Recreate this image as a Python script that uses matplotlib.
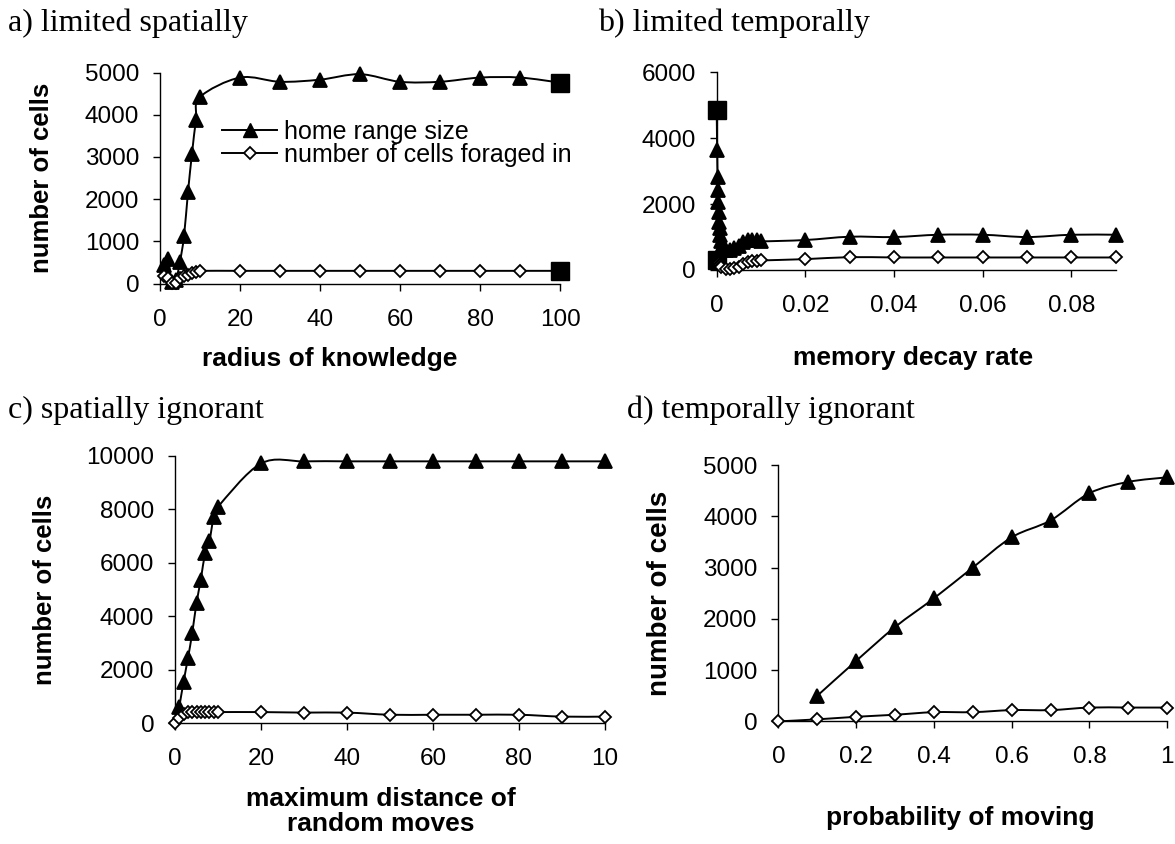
import numpy as np
import matplotlib
matplotlib.use("Agg")
import matplotlib.pyplot as plt
from matplotlib.path import Path
from matplotlib.patches import PathPatch

plt.rcParams['font.family'] = ['Liberation Sans', 'DejaVu Sans']

# a) limited spatially: radius of knowledge (last point = full knowledge)
radius = [1, 2, 3, 4, 5, 6, 7, 8, 9, 10, 20, 30, 40, 50, 60, 70, 80, 90, 100]
home_a = [450, 570, 30, 80, 520, 1120, 2170, 3080, 3880, 4420,
          4880, 4780, 4830, 4960, 4780, 4780, 4880, 4880, 4760]
forage_a = [170, 120, 10, 20, 130, 170, 210, 250, 280, 300,
            300, 300, 300, 300, 300, 300, 300, 300, 300]

# b) limited temporally: memory decay rate (first point = no decay)
decay = [0, 0.0001, 0.0002, 0.0003, 0.0004, 0.0005, 0.0006, 0.0007, 0.0008, 0.0009,
         0.001, 0.002, 0.003, 0.004, 0.005, 0.006, 0.007, 0.008, 0.009,
         0.01, 0.02, 0.03, 0.04, 0.05, 0.06, 0.07, 0.08, 0.09]
home_b = [4850, 3650, 2820, 2420, 2070, 1770, 1470, 1260, 1070, 870,
          680, 620, 620, 680, 740, 860, 900, 900, 900,
          870, 910, 1010, 1000, 1070, 1070, 1000, 1070, 1070]
forage_b = [300, 300, 290, 270, 250, 230, 200, 180, 150, 120,
            80, 40, 30, 60, 100, 170, 230, 260, 280,
            290, 330, 390, 380, 380, 380, 380, 380, 380]

# c) spatially ignorant: maximum distance of random moves
dist_home = [1, 2, 3, 4, 5, 6, 7, 8, 9, 10, 20, 30, 40, 50, 60, 70, 80, 90, 100]
home_c = [620, 1560, 2430, 3370, 4500, 5370, 6370, 6820, 7720, 8100,
          9720, 9800, 9800, 9800, 9800, 9800, 9800, 9800, 9800]
dist_forage = [0, 1, 2, 3, 4, 5, 6, 7, 8, 9, 10, 20, 30, 40, 50, 60, 70, 80, 90, 100]
forage_c = [0, 200, 360, 420, 420, 420, 420, 420, 420, 420, 420,
            420, 400, 400, 320, 320, 320, 320, 250, 250]

# d) temporally ignorant: probability of moving
prob_home = [0.1, 0.2, 0.3, 0.4, 0.5, 0.6, 0.7, 0.8, 0.9, 1.0]
home_d = [500, 1180, 1840, 2400, 3000, 3590, 3920, 4450, 4670, 4760]
prob_forage = [0, 0.1, 0.2, 0.3, 0.4, 0.5, 0.6, 0.7, 0.8, 0.9, 1.0]
forage_d = [0, 40, 90, 130, 180, 180, 220, 220, 270, 270, 270]

W, H = 1175, 844


def smooth_path(xs, ys):
    # Catmull-Rom style cubic Bezier through every point
    pts = np.column_stack([xs, ys]).astype(float)
    n = len(pts)
    verts = [pts[0]]
    codes = [Path.MOVETO]
    for i in range(n - 1):
        p0 = pts[i - 1] if i > 0 else pts[i]
        p1 = pts[i]
        p2 = pts[i + 1]
        p3 = pts[i + 2] if i + 2 < n else pts[i + 1]
        verts += [p1 + (p2 - p0) / 6, p2 - (p3 - p1) / 6, p2]
        codes += [Path.CURVE4] * 3
    return Path(verts, codes)


def draw_series(ax, x, y, marker, ms, face, z, square_at=None):
    ax.add_patch(PathPatch(smooth_path(x, y), fill=False, ec='black', lw=1.4,
                           transform=ax.transData, clip_on=False, zorder=z))
    x = list(x)
    y = list(y)
    if square_at is not None:
        ax.plot([x[square_at]], [y[square_at]], ls='none', marker='s', ms=12.5,
                mfc='black', mec='black', clip_on=False, zorder=z + 1)
        del x[square_at]
        del y[square_at]
    ax.plot(x, y, ls='none', marker=marker, ms=ms, mfc=face, mec='black',
            mew=1.3, clip_on=False, zorder=z + 1)


def make_axes(fig, left, top, right, bottom):
    ax = fig.add_axes([left / W, 1 - bottom / H, (right - left) / W, (bottom - top) / H])
    for side in ['top', 'right']:
        ax.spines[side].set_visible(False)
    for side in ['left', 'bottom']:
        ax.spines[side].set_linewidth(1.0)
    ax.tick_params(axis='both', direction='out', length=5, width=1.0, labelsize=17.5)
    ax.tick_params(axis='y', pad=10)
    ax.tick_params(axis='x', pad=13)
    return ax


def set_labels(ax, xlabel, xpos, ylabel=None, ypos=None, ysize=18.5, xsize=19):
    ax.set_xlabel(xlabel, fontsize=xsize, fontweight='bold', va='top',
                  linespacing=1.05)
    ax.xaxis.set_label_coords(*xpos)
    if ylabel:
        ax.set_ylabel(ylabel, fontsize=ysize, fontweight='bold', va='center')
        ax.yaxis.set_label_coords(*ypos)


def main():
    fig = plt.figure(figsize=(W / 100, H / 100), dpi=100)
    tri, dia = 10, 6.5

    # a) limited spatially
    ax = make_axes(fig, 160, 72.5, 560, 283.5)
    draw_series(ax, radius, home_a, '^', tri, 'black', 3, square_at=len(radius) - 1)
    draw_series(ax, radius, forage_a, 'D', dia, 'white', 5, square_at=len(radius) - 1)
    ax.set_xlim(0, 100)
    ax.set_ylim(0, 5000)
    ax.set_xticks(range(0, 101, 20))
    ax.set_yticks(range(0, 5001, 1000))
    set_labels(ax, 'radius of knowledge', (0.425, -0.3),
               'number of cells', (-0.294, 0.5))
    h1 = plt.Line2D([], [], color='black', lw=1.4, marker='^', ms=tri)
    h2 = plt.Line2D([], [], color='black', lw=1.4, marker='D', ms=dia,
                    mfc='white', mew=1.3)
    ax.legend([h1, h2], ['home range size', 'number of cells foraged in'],
              loc='upper left', bbox_to_anchor=(0.155, 0.776), frameon=False,
              fontsize=18, handlelength=2.2, handletextpad=0.3,
              borderpad=0, borderaxespad=0, labelspacing=-0.03)

    # b) limited temporally
    ax = make_axes(fig, 716.7, 72.3, 1115.7, 270)
    draw_series(ax, decay, home_b, '^', tri, 'black', 3, square_at=0)
    draw_series(ax, decay, forage_b, 'D', dia, 'white', 5, square_at=0)
    ax.set_xlim(0, 0.09)
    ax.set_ylim(0, 6000)
    ax.set_xticks([0, 0.02, 0.04, 0.06, 0.08], ['0', '0.02', '0.04', '0.06', '0.08'])
    ax.set_yticks(range(0, 6001, 2000))
    set_labels(ax, 'memory decay rate', (0.492, -0.385))

    # c) spatially ignorant
    ax = make_axes(fig, 175, 456, 605, 723.3)
    draw_series(ax, dist_home, home_c, '^', tri, 'black', 3)
    draw_series(ax, dist_forage, forage_c, 'D', dia, 'white', 5)
    ax.set_xlim(0, 100)
    ax.set_ylim(0, 10000)
    ax.set_xticks(range(0, 101, 20), ['0', '20', '40', '60', '80', '10'])
    ax.set_yticks(range(0, 10001, 2000))
    set_labels(ax, 'maximum distance of\nrandom moves', (0.479, -0.24),
               'number of cells', (-0.302, 0.5))

    # d) temporally ignorant
    ax = make_axes(fig, 778.4, 465, 1167.2, 721.4)
    draw_series(ax, prob_home, home_d, '^', tri, 'black', 3)
    draw_series(ax, prob_forage, forage_d, 'D', dia, 'white', 5)
    ax.set_xlim(0, 1)
    ax.set_ylim(0, 5000)
    ax.set_xticks([0, 0.2, 0.4, 0.6, 0.8, 1.0], ['0', '0.2', '0.4', '0.6', '0.8', '1'])
    ax.set_yticks(range(0, 5001, 1000))
    set_labels(ax, 'probability of moving', (0.467, -0.33),
               'number of cells', (-0.305, 0.5), ysize=20)

    # panel captions
    serif = ['Liberation Serif', 'DejaVu Serif']
    for text, x, y in [('a) limited spatially', 8, 31),
                       ('b) limited temporally', 598, 31),
                       ('c) spatially ignorant', 8, 418),
                       ('d) temporally ignorant', 627, 418)]:
        fig.text(x / W, 1 - y / H, text, fontsize=23, family=serif,
                 ha='left', va='baseline')

    fig.savefig('out.png', dpi=100, facecolor='white')


main()
